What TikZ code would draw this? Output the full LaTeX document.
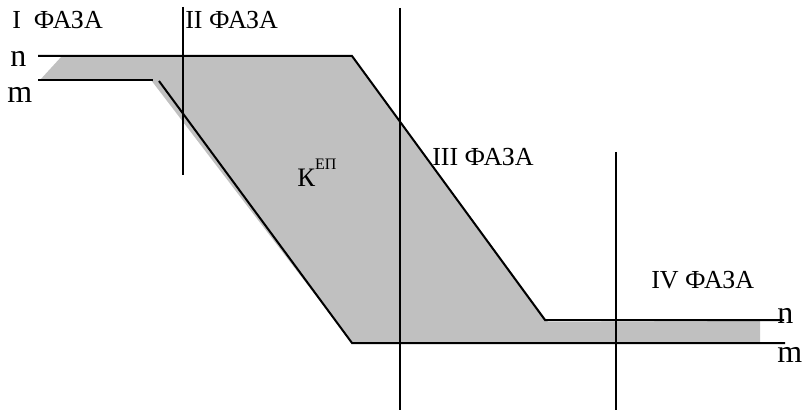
\documentclass[tikz,border=0pt]{standalone}
\usepackage{fontspec}
\setmainfont{Liberation Serif}
\definecolor{bandgray}{HTML}{C0C0C0}
\tikzset{
  bound/.style={line width=1.5pt, black},
  phaseline/.style={line width=1.5pt, black},
  phaselabel/.style={anchor=base west, inner sep=0pt, font=\fontsize{19.5}{22}\selectfont},
  levellabel/.style={anchor=base west, inner sep=0pt, font=\fontsize{24}{26}\selectfont},
  coeflabel/.style={anchor=base west, inner sep=0pt, font=\fontsize{20}{22}\selectfont},
}

\begin{document}
\begin{tikzpicture}[x=0.75pt, y=-0.75pt]
  \useasboundingbox (0,0) rectangle (803,417);
  \coordinate (nL) at (38,56);
  \coordinate (nK) at (352,56);
  \coordinate (nB) at (545,320);
  \coordinate (nR) at (784,320);
  \coordinate (mL) at (38,80);
  \coordinate (mK) at (153,80);
  \coordinate (mA) at (159,81);
  \coordinate (mB) at (352,343);
  \coordinate (mR) at (785,343);
  \fill[bandgray] (62,56) -- (nK) -- (548,322) -- (760,321) -- (760,343) -- (mB) -- (151,80) -- (40,80) -- cycle;
  \draw[bound] (nL) -- (nK) -- (nB) -- (nR);
  \draw[bound] (mL) -- (mK);
  \draw[bound] (mA) -- (mB) -- (mR);
  \coordinate (p2t) at (183,7);
  \coordinate (p2b) at (183,175);
  \coordinate (p3t) at (400,8);
  \coordinate (p3b) at (400,410);
  \coordinate (p4t) at (616,152);
  \coordinate (p4b) at (616,410);
  \draw[phaseline] (p2t) -- (p2b);
  \draw[phaseline] (p3t) -- (p3b);
  \draw[phaseline] (p4t) -- (p4b);
  \node[phaselabel] (f1) at (12,29) {I\ \ ФАЗА};
  \node[phaselabel] (f2) at (185,29) {II ФАЗА};
  \node[phaselabel] (f3) at (432,166) {III ФАЗА};
  \node[phaselabel] (f4) at (651,288) {IV ФАЗА};
  \node[coeflabel] (kep) at (297,186) {К\raisebox{0.62em}{\fontsize{12}{13}\selectfont ЕП}};
  \node[levellabel] (nl) at (10,67) {n};
  \node[levellabel] (ml) at (7,103) {m};
  \node[levellabel] (nr) at (777,323) {n};
  \node[levellabel] (mr) at (777,362) {m};
\end{tikzpicture}
\end{document}
